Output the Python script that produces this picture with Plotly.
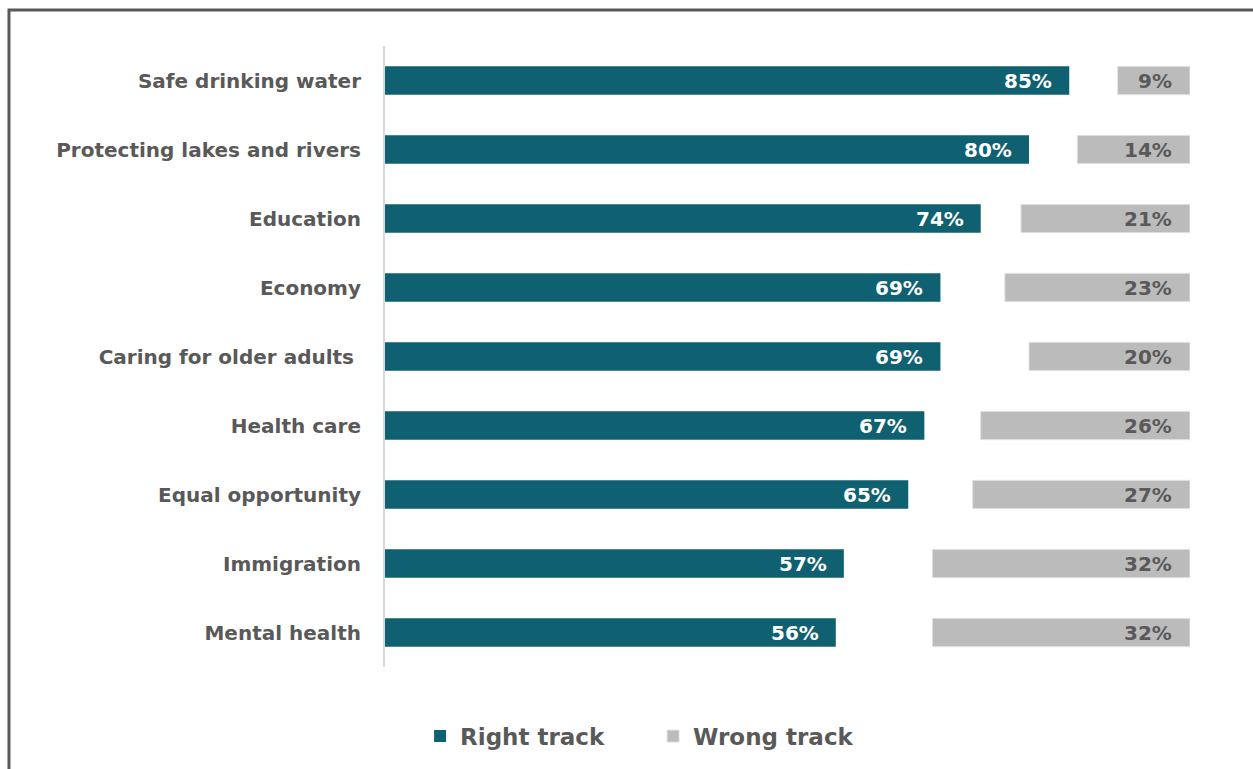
import plotly.graph_objects as go

# Survey items, top to bottom
categories = [
    "Safe drinking water",
    "Protecting lakes and rivers",
    "Education",
    "Economy",
    "Caring for older adults\u00a0",
    "Health care",
    "Equal opportunity",
    "Immigration",
    "Mental health",
]
right_track = [85, 80, 74, 69, 69, 67, 65, 57, 56]
wrong_track = [9, 14, 21, 23, 20, 26, 27, 32, 32]

TEAL = "#0F6070"
GREY = "#BCBBBB"
TEXT = "#595959"
FONT = "DejaVu Sans"

fig = go.Figure()

fig.add_trace(go.Bar(
    name="Right track",
    y=categories,
    x=right_track,
    orientation="h",
    marker=dict(color=TEAL, line=dict(width=0)),
    width=0.41,
    hoverinfo="skip",
))

# Wrong-track bars are anchored to the right edge (100%)
fig.add_trace(go.Bar(
    name="Wrong track",
    y=categories,
    x=wrong_track,
    base=[100 - w for w in wrong_track],
    orientation="h",
    marker=dict(color=GREY, line=dict(color="#E2E2E2", width=1)),
    width=0.41,
    hoverinfo="skip",
))

annotations = []
for cat, r, w in zip(categories, right_track, wrong_track):
    annotations.append(dict(
        x=r, y=cat, xref="x", yref="y", text=f"{r}%",
        showarrow=False, xanchor="right", xshift=-15,
        font=dict(family=FONT, size=20, color="white", weight=700),
    ))
    annotations.append(dict(
        x=100, y=cat, xref="x", yref="y", text=f"{w}%",
        showarrow=False, xanchor="right", xshift=-16,
        font=dict(family=FONT, size=20, color=TEXT, weight=700),
    ))

fig.update_layout(
    width=1253,
    height=769,
    margin=dict(l=385, r=63, t=46, b=101),
    paper_bgcolor="white",
    plot_bgcolor="white",
    barmode="overlay",
    showlegend=True,
    legend=dict(
        orientation="h",
        x=0.333, xanchor="center",
        y=-0.075, yanchor="top",
        font=dict(family=FONT, size=23, color=TEXT, weight=700),
        entrywidth=188,
        itemclick=False,
        itemdoubleclick=False,
    ),
    xaxis=dict(
        range=[0, 100],
        visible=False,
        fixedrange=True,
    ),
    yaxis=dict(
        autorange="reversed",
        showline=True,
        linecolor="#D9D9D9",
        linewidth=2,
        showgrid=False,
        ticks="",
        ticklabelstandoff=18,
        tickfont=dict(family=FONT, size=20, color=TEXT, weight=700),
        fixedrange=True,
    ),
    annotations=annotations,
    shapes=[
        # outer frame of the figure panel
        dict(
            type="rect", xref="paper", yref="paper",
            x0=-0.4671, x1=1.2, y0=-0.4, y1=1.0579,
            line=dict(color="#595959", width=3),
            fillcolor="rgba(0,0,0,0)",
            layer="below",
        ),
    ],
)

fig.write_html("out.html")
